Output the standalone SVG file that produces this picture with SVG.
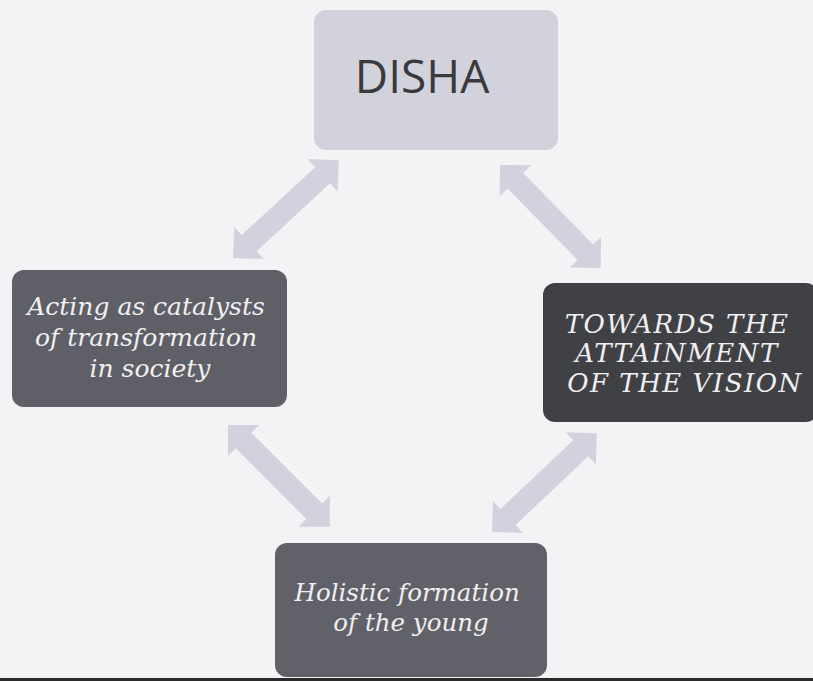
<svg xmlns="http://www.w3.org/2000/svg" width="813" height="681" viewBox="0 0 813 681">
  <style>
    .dark text { font-family: "DejaVu Serif", "Liberation Serif", serif; font-style: italic; fill: #f0f0f2; text-anchor: middle; }
    .arrow { fill: #d2d2de; }
  </style>
  <defs>
    <path id="dbl" d="M0,0 L22,-22 L22,-11 L122,-11 L122,-22 L144,0 L122,22 L122,11 L22,11 L22,22 Z"/>
  </defs>
  <rect x="0" y="0" width="813" height="681" fill="#f3f3f5"/>

  <g id="connectors" class="arrow">
    <use href="#dbl" transform="translate(233,258) rotate(-42.7)"/>
    <use href="#dbl" transform="translate(500,165) rotate(45.6)"/>
    <use href="#dbl" transform="translate(228,425) rotate(45)"/>
    <use href="#dbl" transform="translate(492,532) rotate(-43.3)"/>
  </g>

  <g id="disha">
    <rect x="314" y="10" width="244" height="140" rx="12" fill="#d2d2dc"/>
    <text x="422" y="93" font-family="'Open Sans', 'Noto Sans', sans-serif" font-size="46" fill="#3a3a3e" text-anchor="middle">DISHA</text>
  </g>

  <g id="catalysts" class="dark">
    <rect x="12" y="270" width="275" height="137" rx="12" fill="#5e5f67"/>
    <text font-size="25">
      <tspan x="150" y="315">Acting as catalysts</tspan>
      <tspan x="150" y="346">of transformation</tspan>
      <tspan x="150" y="377">in society</tspan>
    </text>
  </g>

  <g id="vision" class="dark">
    <rect x="543" y="283" width="275" height="139" rx="12" fill="#404145"/>
    <text font-size="26" letter-spacing="1.5">
      <tspan x="682" y="333">TOWARDS THE</tspan>
      <tspan x="682" y="362">ATTAINMENT</tspan>
      <tspan x="685" y="392">OF THE VISION</tspan>
    </text>
  </g>

  <g id="holistic" class="dark">
    <rect x="275" y="543" width="272" height="134" rx="12" fill="#606169"/>
    <text font-size="24.5">
      <tspan x="411" y="601">Holistic formation</tspan>
      <tspan x="411" y="631">of the young</tspan>
    </text>
  </g>

  <rect x="0" y="678" width="813" height="3" fill="#2a2a2c"/>
</svg>
